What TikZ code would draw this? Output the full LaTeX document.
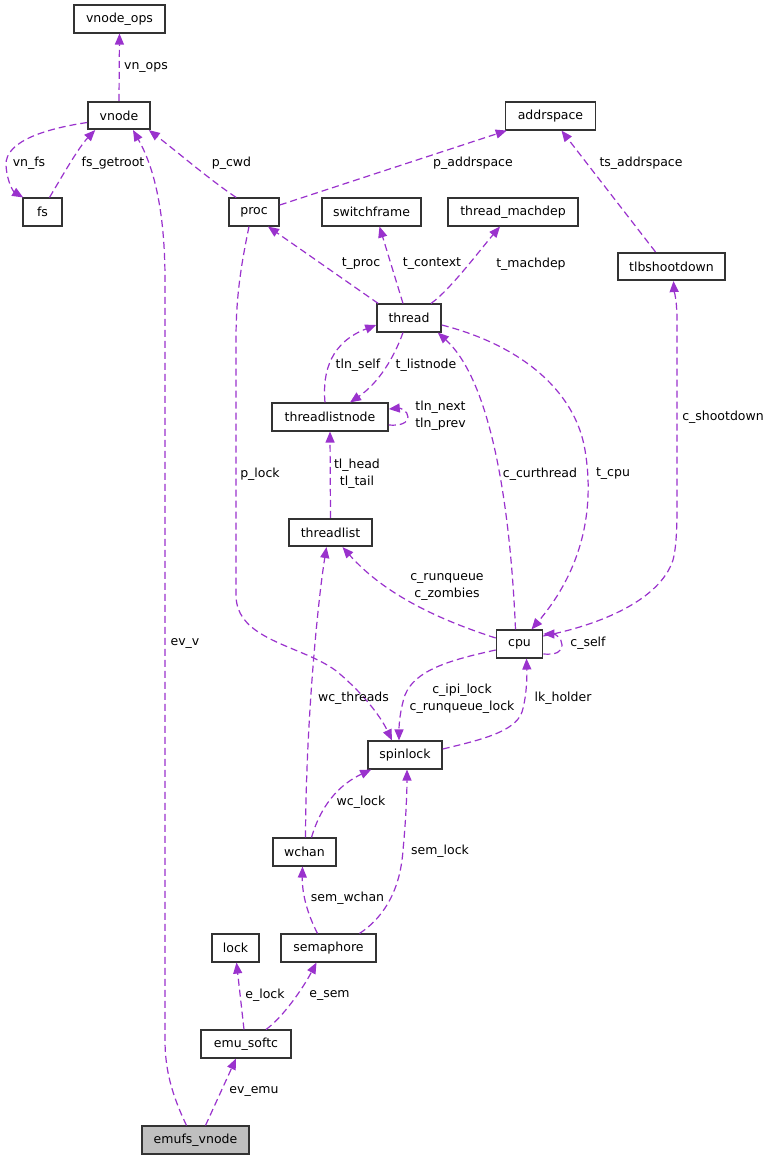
\documentclass[tikz,border=0pt]{standalone}
\usepackage{fontspec}
\setmainfont{DejaVu Sans}
\usetikzlibrary{arrows.meta,calc}
\definecolor{edgec}{HTML}{9A32CD}
\definecolor{boxc}{HTML}{333333}
\begin{document}
\begin{tikzpicture}[x=1pt,y=-1pt,
  box/.style={draw=boxc, line width=1.6pt, minimum height=27.5pt, inner sep=0pt, font=\fontsize{12.5}{15}\selectfont},
  lbl/.style={inner sep=0pt, align=center, font=\fontsize{12.5}{17}\selectfont},
  rel/.style={draw=edgec, line width=1.2pt, dash pattern=on 7pt off 4pt, -{Triangle[length=11pt,width=9pt]}}]
\useasboundingbox[fill=white] (0,0) rectangle (772,1160);
% nodes
\node[box, minimum width=91pt] (vnodeops) at (119.5,19) {vnode\_ops};
\node[box, minimum width=62pt] (vnode) at (119,115.5) {vnode};
\node[box, minimum width=39pt] (fs) at (42.5,212) {fs};
\node[box, minimum width=50pt] (proc) at (254,212) {proc};
\node[box, minimum width=90pt] (addrspace) at (550.5,116) {addrspace};
\node[box, minimum width=99pt] (switchframe) at (371.5,212) {switchframe};
\node[box, minimum width=130pt] (threadmachdep) at (513,212) {thread\_machdep};
\node[box, minimum width=107pt] (tlbshootdown) at (671.5,266.5) {tlbshootdown};
\node[box, minimum width=64pt] (thread) at (409,318) {thread};
\node[box, minimum width=116pt] (threadlistnode) at (330,417) {threadlistnode};
\node[box, minimum width=83pt] (threadlist) at (330.5,532.5) {threadlist};
\node[box, minimum width=46pt] (cpu) at (519.5,644) {cpu};
\node[box, minimum width=74pt] (spinlock) at (405,755) {spinlock};
\node[box, minimum width=63pt] (wchan) at (304.5,852) {wchan};
\node[box, minimum width=47pt] (lock) at (235.5,948) {lock};
\node[box, minimum width=95pt] (semaphore) at (328.5,948) {semaphore};
\node[box, minimum width=90pt] (emusoftc) at (246,1044) {emu\_softc};
\node[box, minimum width=107pt, fill=black!25] (emufsvnode) at (195.5,1140) {emufs\_vnode};
% edges
\draw[rel] (vnode.north) -- (vnodeops.south);
\draw[rel] ($(vnode.west)+(0,7)$) .. controls (50,128) and (5,140) .. (6,165) .. controls (7,183) and (14,192) .. ($(fs.north west)+(1,0)$);
\draw[rel] ($(fs.north)+(7,0)$) .. controls (60,180) and (78,148) .. ($(vnode.south west)+(8,0)$);
\draw[rel] ($(emufsvnode.north)+(-9,0)$) .. controls (172,1095) and (165,1070) .. (165,1040) -- (165,280) .. controls (165,200) and (150,160) .. ($(vnode.south)+(14,0)$);
\draw[rel] ($(proc.north west)+(8,0)$) .. controls (210,180) and (175,150) .. ($(vnode.south east)+(-2,0)$);
\draw[rel] ($(proc.east)+(0,-7)$) -- ($(addrspace.south west)+(2,0)$);
\draw[rel] ($(tlbshootdown.north)+(-16,0)$) -- ($(addrspace.south)+(11,0)$);
\draw[rel] ($(thread.north west)+(2,0)$) -- ($(proc.south)+(14,0)$);
\draw[rel] ($(thread.north)+(-6,0)$) -- ($(switchframe.south)+(8,0)$);
\draw[rel] ($(thread.north)+(22,0)$) .. controls (450,290) and (480,250) .. ($(threadmachdep.south)+(-13,0)$);
\draw[rel] ($(threadlistnode.north)+(-5,0)$) .. controls (322,370) and (332,342) .. ($(thread.west)+(0,7)$);
\draw[rel] ($(thread.south)+(-6,0)$) .. controls (395,355) and (380,382) .. ($(threadlistnode.north)+(20,0)$);
\draw[rel] ($(threadlistnode.east)+(0,8)$) .. controls (400,426) and (408,423) .. (408,417) .. controls (408,411) and (400,408) .. ($(threadlistnode.east)+(0,-8)$);
\draw[rel] (threadlist.north) -- (threadlistnode.south);
\draw[rel] ($(cpu.north)+(-4,0)$) .. controls (510,500) and (490,380) .. ($(thread.south east)+(-4,0)$);
\draw[rel] ($(thread.east)+(0,7)$) .. controls (520,345) and (575,390) .. (585,450) .. controls (595,510) and (582,570) .. ($(cpu.north)+(12,0)$);
\draw[rel] ($(cpu.east)+(0,-8)$) .. controls (600,625) and (660,600) .. (673,560) .. controls (677,545) and (677,520) .. (677,500) -- (677,320) .. controls (677,300) and (674,290) .. ($(tlbshootdown.south)+(2,0)$);
\draw[rel] ($(cpu.east)+(0,10)$) .. controls (556,655) and (562,652) .. (562,645) .. controls (562,638) and (555,634) .. ($(cpu.east)+(0,-10)$);
\draw[rel] ($(cpu.west)+(0,-6)$) .. controls (440,620) and (385,595) .. ($(threadlist.south)+(12,0)$);
\draw[rel] ($(cpu.west)+(0,6)$) .. controls (450,660) and (415,670) .. (405,695) .. controls (400,710) and (399,725) .. ($(spinlock.north)+(-6,0)$);
\draw[rel] ($(spinlock.east)+(0,-6)$) .. controls (480,740) and (515,732) .. (522,712) .. controls (527,695) and (527,675) .. ($(cpu.south)+(7,0)$);
\draw[rel] ($(proc.south)+(-5,0)$) .. controls (240,270) and (236,300) .. (236,340) -- (236,595) .. controls (236,640) and (300,645) .. (335,670) .. controls (360,690) and (380,715) .. ($(spinlock.north)+(-13,0)$);
\draw[rel] ($(wchan.north)+(1,0)$) .. controls (306,720) and (318,600) .. ($(threadlist.south)+(-4,0)$);
\draw[rel] ($(wchan.north)+(7,0)$) .. controls (318,815) and (332,788) .. ($(spinlock.south west)+(4,0)$);
\draw[rel] ($(semaphore.north)+(-11,0)$) .. controls (308,915) and (302,895) .. ($(wchan.south)+(-2,0)$);
\draw[rel] ($(semaphore.north)+(31,0)$) .. controls (380,920) and (400,895) .. (403,850) .. controls (406,820) and (407,790) .. ($(spinlock.south)+(2,0)$);
\draw[rel] ($(emusoftc.north)+(-2,0)$) -- ($(lock.south)+(1,0)$);
\draw[rel] ($(emusoftc.north)+(20,0)$) .. controls (282,1018) and (302,990) .. ($(semaphore.south)+(-12,0)$);
\draw[rel] ($(emufsvnode.north)+(10,0)$) -- ($(emusoftc.south)+(-10,0)$);
% labels
\node[lbl] (l1) at (146,67) {vn\_ops};
\node[lbl] (l2) at (29,163) {vn\_fs};
\node[lbl] (l3) at (113,163) {fs\_getroot};
\node[lbl] (l4) at (231.5,163) {p\_cwd};
\node[lbl] (l5) at (473,163) {p\_addrspace};
\node[lbl] (l6) at (641,163) {ts\_addrspace};
\node[lbl] (l7) at (361,264) {t\_proc};
\node[lbl] (l8) at (432,264) {t\_context};
\node[lbl] (l9) at (531,264) {t\_machdep};
\node[lbl] (l10) at (358,365) {tln\_self};
\node[lbl] (l11) at (426,365) {t\_listnode};
\node[lbl] (l12) at (440.5,415.5) {tln\_next\\tln\_prev};
\node[lbl] (l13) at (357,474) {tl\_head\\tl\_tail};
\node[lbl] (l14) at (540,474) {c\_curthread};
\node[lbl] (l15) at (613,474) {t\_cpu};
\node[lbl] (l16) at (723,417) {c\_shootdown};
\node[lbl] (l17) at (260,474) {p\_lock};
\node[lbl] (l18) at (447,587) {c\_runqueue\\c\_zombies};
\node[lbl] (l19) at (588,643) {c\_self};
\node[lbl] (l20) at (462,698.5) {c\_ipi\_lock\\c\_runqueue\_lock};
\node[lbl] (l21) at (563,698) {lk\_holder};
\node[lbl] (l22) at (353.5,698.5) {wc\_threads};
\node[lbl] (l23) at (185,643) {ev\_v};
\node[lbl] (l24) at (361,802) {wc\_lock};
\node[lbl] (l25) at (440,851) {sem\_lock};
\node[lbl] (l26) at (347.5,898) {sem\_wchan};
\node[lbl] (l27) at (265,995) {e\_lock};
\node[lbl] (l28) at (329.5,995) {e\_sem};
\node[lbl] (l29) at (254,1091) {ev\_emu};
\end{tikzpicture}
\end{document}
